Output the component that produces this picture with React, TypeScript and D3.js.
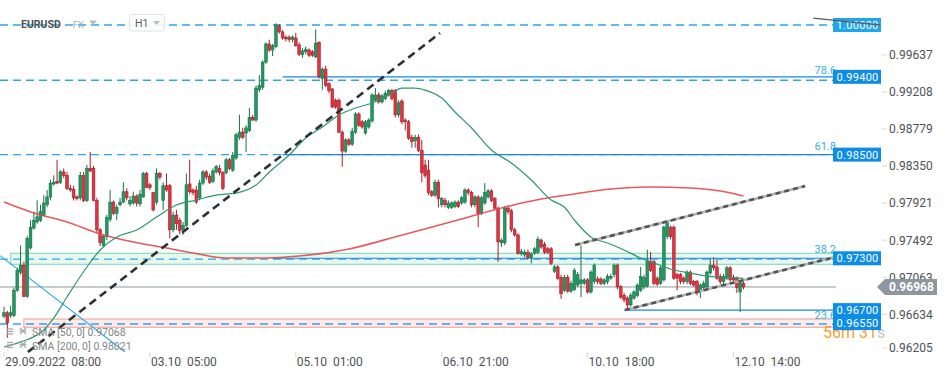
import React from 'react';
import * as d3 from 'd3';

// ---------- data (EURUSD H1) ----------
const openP = [
  0.9663, 0.9667, 0.9664, 0.9664, 0.9693, 0.9714, 0.9722, 0.9686, 0.9742, 0.9765,
  0.9772, 0.9774, 0.978, 0.9792, 0.9801, 0.9816, 0.9819, 0.9818, 0.983, 0.9826,
  0.9811, 0.981, 0.9801, 0.98, 0.9826, 0.9797, 0.9834, 0.9834, 0.9797, 0.9763,
  0.9745, 0.9755, 0.9775, 0.9795, 0.9782, 0.9792, 0.9795, 0.9807, 0.9793, 0.9794,
  0.9802, 0.9793, 0.9801, 0.9828, 0.9815, 0.9806, 0.9795, 0.9828, 0.9797, 0.9814,
  0.9814, 0.9763, 0.978, 0.9774, 0.9763, 0.9768, 0.9816, 0.9809, 0.9809, 0.98,
  0.9817, 0.983, 0.9825, 0.9819, 0.983, 0.9834, 0.9829, 0.9829, 0.9844, 0.9832,
  0.9846, 0.987, 0.9876, 0.9875, 0.9878, 0.9893, 0.989, 0.9925, 0.9928, 0.9957,
  0.9978, 0.9971, 0.9975, 0.9999, 0.9992, 0.9986, 0.9986, 0.9983, 0.9985, 0.9977,
  0.9966, 0.9969, 0.9971, 0.9969, 0.9963, 0.998, 0.9938, 0.9949, 0.9932, 0.9926,
  0.9913, 0.9913, 0.9876, 0.9854, 0.9867, 0.9862, 0.9876, 0.9897, 0.9888, 0.9875,
  0.9882, 0.9889, 0.9913, 0.9919, 0.9911, 0.9915, 0.9919, 0.9924, 0.9924, 0.9896,
  0.9912, 0.989, 0.9888, 0.987, 0.9866, 0.987, 0.9855, 0.9838, 0.9832, 0.9807,
  0.9803, 0.9818, 0.9792, 0.9797, 0.9789, 0.9789, 0.979, 0.9795, 0.9794, 0.9795,
  0.9809, 0.9806, 0.9792, 0.9801, 0.9782, 0.9794, 0.9801, 0.9808, 0.9799, 0.9788,
  0.9748, 0.9748, 0.9788, 0.9785, 0.9763, 0.9757, 0.9735, 0.9734, 0.9737, 0.9731,
  0.9736, 0.9737, 0.9751, 0.9746, 0.9741, 0.9741, 0.9715, 0.972, 0.9708, 0.9693,
  0.9708, 0.9692, 0.9694, 0.9699, 0.9701, 0.9701, 0.9705, 0.9691, 0.9703, 0.9706,
  0.9706, 0.9701, 0.9703, 0.9707, 0.9711, 0.9722, 0.9697, 0.9687, 0.9684, 0.9676,
  0.9684, 0.9687, 0.9693, 0.9697, 0.9698, 0.9726, 0.9726, 0.9707, 0.9701, 0.9705,
  0.9755, 0.9766, 0.9766, 0.9711, 0.9711, 0.9707, 0.9703, 0.9714, 0.9703, 0.9703,
  0.9693, 0.9696, 0.9697, 0.9713, 0.9722, 0.972, 0.9709, 0.9703, 0.9707, 0.9719,
  0.9708, 0.9707, 0.9691, 0.9701,
];
const highP = [
  0.9674, 0.9669, 0.9675, 0.9696, 0.9719, 0.9745, 0.9726, 0.9756, 0.9774, 0.9784,
  0.9797, 0.9792, 0.9803, 0.9809, 0.9821, 0.9826, 0.9844, 0.9832, 0.9834, 0.983,
  0.9815, 0.9814, 0.9803, 0.983, 0.983, 0.9838, 0.9853, 0.9837, 0.98, 0.9765,
  0.9757, 0.978, 0.9809, 0.9797, 0.9792, 0.98, 0.9818, 0.9811, 0.9802, 0.9807,
  0.9804, 0.9809, 0.983, 0.983, 0.9817, 0.9807, 0.9834, 0.983, 0.9818, 0.9828,
  0.9816, 0.9784, 0.9786, 0.9777, 0.9772, 0.9828, 0.9844, 0.9811, 0.9814, 0.9821,
  0.9832, 0.9832, 0.9828, 0.9834, 0.9838, 0.9838, 0.9831, 0.9846, 0.9846, 0.9853,
  0.9875, 0.9896, 0.9881, 0.9884, 0.9904, 0.9896, 0.993, 0.9942, 0.9959, 0.998,
  0.9983, 0.9978, 1.0002, 1.0001, 0.9994, 0.9988, 0.9988, 0.9988, 0.9991, 0.998,
  0.9973, 0.9975, 0.9973, 0.9971, 0.9995, 0.9981, 0.9951, 0.9953, 0.9934, 0.9927,
  0.9915, 0.9915, 0.9878, 0.9869, 0.9869, 0.9881, 0.9899, 0.9899, 0.989, 0.989,
  0.9892, 0.9921, 0.9927, 0.9922, 0.992, 0.9924, 0.9926, 0.9926, 0.9926, 0.9913,
  0.9914, 0.9892, 0.989, 0.9873, 0.9873, 0.9873, 0.9867, 0.9844, 0.9844, 0.9809,
  0.9821, 0.9821, 0.9801, 0.98, 0.9797, 0.9796, 0.9797, 0.9797, 0.9802, 0.9811,
  0.9811, 0.9808, 0.9803, 0.9803, 0.9802, 0.9817, 0.981, 0.981, 0.9801, 0.979,
  0.9753, 0.979, 0.979, 0.9787, 0.9765, 0.9759, 0.9741, 0.974, 0.974, 0.9737,
  0.9743, 0.9755, 0.9753, 0.9749, 0.9743, 0.9743, 0.9722, 0.9722, 0.9711, 0.9711,
  0.9711, 0.9704, 0.9719, 0.9714, 0.9745, 0.9707, 0.9707, 0.9716, 0.9724, 0.9709,
  0.9708, 0.9707, 0.9712, 0.9712, 0.9724, 0.9724, 0.9699, 0.969, 0.9686, 0.969,
  0.9693, 0.9701, 0.972, 0.9711, 0.974, 0.9737, 0.9728, 0.9709, 0.9721, 0.9768,
  0.9774, 0.9768, 0.9768, 0.9713, 0.9713, 0.9709, 0.9716, 0.9716, 0.9705, 0.9705,
  0.9701, 0.9704, 0.9716, 0.973, 0.9731, 0.9728, 0.9712, 0.9712, 0.9721, 0.9721,
  0.9711, 0.9709, 0.9705, 0.9704,
];
const lowP = [
  0.9661, 0.9638, 0.9661, 0.9662, 0.9691, 0.9711, 0.9685, 0.9684, 0.974, 0.9763,
  0.977, 0.9772, 0.9779, 0.9789, 0.9797, 0.9814, 0.9816, 0.9816, 0.9823, 0.9809,
  0.9807, 0.9797, 0.9797, 0.9797, 0.9795, 0.9795, 0.983, 0.9796, 0.976, 0.9744,
  0.9743, 0.9751, 0.9772, 0.978, 0.9774, 0.979, 0.9794, 0.9797, 0.979, 0.9792,
  0.979, 0.979, 0.98, 0.9811, 0.9809, 0.9784, 0.9792, 0.9821, 0.9786, 0.9807,
  0.9753, 0.976, 0.9763, 0.9758, 0.9757, 0.9766, 0.9804, 0.9803, 0.9793, 0.9797,
  0.9815, 0.9821, 0.9816, 0.9817, 0.9828, 0.9826, 0.9809, 0.9827, 0.9832, 0.983,
  0.9844, 0.9867, 0.9868, 0.9853, 0.9876, 0.9889, 0.9888, 0.9922, 0.9925, 0.9955,
  0.9969, 0.9964, 0.9973, 0.999, 0.9983, 0.9981, 0.998, 0.998, 0.9975, 0.9964,
  0.9962, 0.9966, 0.9963, 0.9963, 0.9962, 0.9938, 0.9925, 0.9928, 0.9921, 0.9904,
  0.9903, 0.9875, 0.9836, 0.9852, 0.986, 0.986, 0.9874, 0.9882, 0.988, 0.9873,
  0.988, 0.9887, 0.9911, 0.9909, 0.9909, 0.9913, 0.9917, 0.9913, 0.9893, 0.9893,
  0.9885, 0.9878, 0.9867, 0.9858, 0.9858, 0.9853, 0.9818, 0.9823, 0.9803, 0.9801,
  0.9801, 0.9789, 0.9789, 0.9789, 0.9787, 0.9787, 0.9788, 0.9788, 0.9792, 0.9793,
  0.9803, 0.9789, 0.9789, 0.9766, 0.978, 0.9792, 0.9799, 0.9795, 0.9786, 0.9726,
  0.9743, 0.9745, 0.9781, 0.976, 0.9755, 0.9734, 0.9733, 0.9731, 0.9729, 0.9724,
  0.9734, 0.9735, 0.9741, 0.9735, 0.9735, 0.9722, 0.9713, 0.9705, 0.9683, 0.9691,
  0.969, 0.969, 0.9692, 0.9697, 0.9685, 0.9699, 0.9689, 0.9689, 0.97, 0.97,
  0.9699, 0.9699, 0.97, 0.9705, 0.9708, 0.9694, 0.9683, 0.9679, 0.9672, 0.9674,
  0.9682, 0.9685, 0.9691, 0.9694, 0.9696, 0.9714, 0.9699, 0.9698, 0.9699, 0.9703,
  0.9752, 0.9752, 0.9705, 0.9693, 0.97, 0.97, 0.97, 0.9699, 0.9697, 0.9687,
  0.9684, 0.9693, 0.9694, 0.9711, 0.9716, 0.9705, 0.97, 0.97, 0.9705, 0.9703,
  0.9703, 0.969, 0.9668, 0.9694,
];
const closeP = [
  0.9667, 0.9655, 0.9667, 0.9693, 0.9716, 0.9722, 0.9686, 0.9753, 0.9766, 0.9774,
  0.9778, 0.9784, 0.9794, 0.9801, 0.9817, 0.9818, 0.9817, 0.983, 0.9826, 0.9811,
  0.9809, 0.98, 0.9799, 0.9826, 0.9797, 0.9834, 0.9831, 0.9797, 0.9763, 0.9748,
  0.9755, 0.9777, 0.9795, 0.9782, 0.9789, 0.9795, 0.9807, 0.98, 0.9797, 0.9802,
  0.9794, 0.9804, 0.9828, 0.9812, 0.9812, 0.9786, 0.9828, 0.9824, 0.9814, 0.9809,
  0.9763, 0.978, 0.977, 0.9762, 0.9768, 0.9815, 0.9807, 0.9806, 0.9795, 0.9817,
  0.983, 0.9824, 0.9818, 0.9831, 0.9836, 0.9829, 0.9811, 0.9844, 0.9834, 0.9849,
  0.9873, 0.9876, 0.987, 0.9881, 0.9893, 0.989, 0.9927, 0.993, 0.9957, 0.9978,
  0.9971, 0.9976, 1.0, 0.9992, 0.9985, 0.9984, 0.9983, 0.9986, 0.9976, 0.9966,
  0.997, 0.9972, 0.9965, 0.9965, 0.9979, 0.994, 0.9949, 0.993, 0.9924, 0.9905,
  0.9905, 0.9876, 0.9854, 0.9867, 0.9862, 0.9877, 0.9897, 0.9884, 0.9882, 0.9888,
  0.989, 0.9919, 0.9919, 0.9911, 0.9918, 0.9921, 0.9924, 0.9915, 0.9896, 0.991,
  0.9888, 0.9888, 0.9869, 0.9865, 0.987, 0.9855, 0.9829, 0.9826, 0.9806, 0.9803,
  0.9818, 0.9799, 0.9799, 0.9792, 0.9794, 0.9794, 0.9795, 0.979, 0.98, 0.9809,
  0.9806, 0.9792, 0.9801, 0.9782, 0.98, 0.9806, 0.9808, 0.9797, 0.9788, 0.9749,
  0.9751, 0.9788, 0.9784, 0.9763, 0.9757, 0.9736, 0.9738, 0.9737, 0.9731, 0.9735,
  0.9741, 0.9752, 0.9743, 0.9737, 0.9737, 0.9724, 0.972, 0.9707, 0.9689, 0.9708,
  0.9692, 0.9701, 0.9716, 0.9711, 0.9705, 0.9705, 0.9691, 0.9714, 0.9722, 0.9703,
  0.9701, 0.9705, 0.9709, 0.9709, 0.9722, 0.9697, 0.9685, 0.9682, 0.9676, 0.9687,
  0.9691, 0.9699, 0.9709, 0.9708, 0.9728, 0.9716, 0.9701, 0.97, 0.9719, 0.9766,
  0.9772, 0.9755, 0.9707, 0.9707, 0.9703, 0.9703, 0.9714, 0.9701, 0.9699, 0.969,
  0.9699, 0.9701, 0.9714, 0.9722, 0.9719, 0.9707, 0.9703, 0.9709, 0.9719, 0.9705,
  0.9705, 0.9696, 0.9703, 0.96968,
];

const sma50Idx = [0, 5, 12, 15, 19, 25, 29, 34, 40, 46, 52, 58, 64, 70, 76, 80, 86, 91, 96, 101, 106, 111, 116, 120, 124, 127, 132, 136, 141, 147, 153, 159, 165, 169, 172, 177, 182, 187, 192, 196, 202, 207, 212, 217, 223];
const sma50Val = [0.96273, 0.96331, 0.9647, 0.96608, 0.96852, 0.97199, 0.97396, 0.97546, 0.97627, 0.97777, 0.97916, 0.97974, 0.98032, 0.98055, 0.98148, 0.98298, 0.98495, 0.98692, 0.98819, 0.98958, 0.99039, 0.99097, 0.99189, 0.9927, 0.9927, 0.99247, 0.99155, 0.98993, 0.98808, 0.98553, 0.98402, 0.98206, 0.97974, 0.97893, 0.97743, 0.97546, 0.97477, 0.97396, 0.97303, 0.97245, 0.97164, 0.97129, 0.97094, 0.97083, 0.97068];
const sma200Idx = [0, 9, 19, 29, 39, 49, 57, 67, 79, 89, 104, 119, 128, 138, 150, 162, 172, 183, 195, 207, 216, 223];
const sma200Val = [0.97951, 0.97824, 0.9772, 0.97581, 0.97488, 0.97419, 0.97361, 0.97303, 0.97303, 0.97326, 0.97407, 0.97558, 0.9765, 0.97754, 0.97882, 0.97986, 0.98044, 0.98102, 0.98125, 0.98113, 0.98078, 0.98021];

const timeTickIdx = [0, 44, 88, 132, 176, 220];
const timeTickLabels = ['29.09.2022  08:00', '03.10  05:00', '05.10  01:00', '06.10  21:00', '10.10  18:00', '12.10  14:00'];
const priceTicks = [0.99637, 0.99208, 0.98779, 0.9835, 0.97921, 0.97492, 0.97063, 0.96634, 0.96205];

const levelPrices = [1.0, 0.994, 0.985, 0.973, 0.967, 0.9655];
const levelLabels = ['1.00000', '0.99400', '0.98500', '0.97300', '0.96700', '0.96550'];
const dashedLevelPrices = [1.0, 0.9936, 0.985, 0.9729, 0.9654];
const fibPrices = [0.994, 0.985, 0.973, 0.967];
const fibLabels = ['78.6', '61.8', '38.2', '23.6'];
const fibStartIdx = [84, 84, 81, 187];
const greenZone = [0.97357, 0.9723];
const greenZoneStart = 2;
const pinkZone = [0.96597, 0.96501];
const pinkZoneStart = 6;
const lastPrice = 0.96968;
const lastPriceLabel = '0.96968';
const mainTrend: [number, number][] = [[7.2, 0.96215], [131.5, 0.99907]];
const blueDiag: [number, number][] = [[-1.2, 0.9733], [36.5, 0.96215]];
const channelUpper: [number, number][] = [[172.2, 0.97453], [241.6, 0.98136]];
const channelLower: [number, number][] = [[187.3, 0.96701], [250.6, 0.97314]];
const topStub: [number, number][] = [[244, 1.0008], [264.2, 1.0]];
const legendRows = ['SMA [50, 0] 0.97068', 'SMA [200, 0] 0.98021'];
const symbol = 'EURUSD';
const market = 'FX';
const interval = 'H1';
const countdown = ['56m 31', 's'];

// ---------- scales ----------
const x = d3.scaleLinear().domain([0, 223]).range([4, 4 + 3.316 * 223]);
const y = d3.scaleLinear().domain([1.0, 0.9655]).range([25, 25 + 34.5 * 8.64]);

const PLOT_R = 836;
const PLOT_B = 353;
const FONT = 'Roboto, "Noto Sans", sans-serif';
const GREEN = '#23995f';
const GREEN_D = '#17704a';
const RED = '#e2343f';
const RED_D = '#a51e29';
const DASH_BLUE = '#2aa8e6';
const FIB_BLUE = '#1f86de';

const lineGen = d3
  .line<[number, number]>()
  .x((d) => x(d[0]))
  .y((d) => y(d[1]));

const smoothGen = d3
  .line<[number, number]>()
  .x((d) => x(d[0]))
  .y((d) => y(d[1]))
  .curve(d3.curveMonotoneX);

export default function App() {
  const candles = openP.map((o, i) => ({ i, o, h: highP[i], l: lowP[i], c: closeP[i] }));
  const sma50 = sma50Idx.map((d, k) => [d, sma50Val[k]] as [number, number]);
  const sma200 = sma200Idx.map((d, k) => [d, sma200Val[k]] as [number, number]);
  const bw = 2.7;
  const fibDy = [-2.5, -5, -5.5, 9];
  const yLast = y(lastPrice);

  return (
    <svg
      width={949}
      height={378}
      style={{ position: 'absolute', left: 0, top: 0, background: '#fff' }}
      fontFamily={FONT}
    >
      <defs>
        <clipPath id="plot">
          <rect x={0} y={0} width={PLOT_R} height={PLOT_B} />
        </clipPath>
      </defs>

      <g clipPath="url(#plot)">
        {/* zones */}
        <rect
          x={x(greenZoneStart)}
          y={y(greenZone[0])}
          width={PLOT_R - x(greenZoneStart)}
          height={y(greenZone[1]) - y(greenZone[0])}
          fill="#dff5ec"
          fillOpacity={0.75}
          stroke="#8fdcbf"
          strokeWidth={1.2}
        />
        <rect
          x={x(pinkZoneStart)}
          y={y(pinkZone[0])}
          width={PLOT_R - x(pinkZoneStart)}
          height={y(pinkZone[1]) - y(pinkZone[0])}
          fill="#fde6e6"
          fillOpacity={0.8}
          stroke="#f4a9a9"
          strokeWidth={1.2}
        />

        {/* dashed horizontal levels */}
        {dashedLevelPrices.map((p, k) => (
          <line
            key={'dl' + k}
            x1={0}
            x2={PLOT_R}
            y1={y(p)}
            y2={y(p)}
            stroke={DASH_BLUE}
            strokeWidth={1.4}
            strokeDasharray="8 5"
          />
        ))}

        {/* fib solid lines */}
        {fibPrices.map((p, k) => (
          <line
            key={'fl' + k}
            x1={x(fibStartIdx[k])}
            x2={PLOT_R}
            y1={y(p)}
            y2={y(p)}
            stroke={FIB_BLUE}
            strokeWidth={1.1}
          />
        ))}

        {/* last price line */}
        <line x1={0} x2={PLOT_R} y1={yLast} y2={yLast} stroke="#8d979d" strokeWidth={1} />

        {/* blue diagonal */}
        <path d={lineGen(blueDiag) || ''} stroke="#2aa8e6" strokeWidth={1.1} fill="none" />

        {/* candles */}
        {candles.map((d) => {
          const up = d.c >= d.o;
          const top = y(Math.max(d.o, d.c));
          const bot = y(Math.min(d.o, d.c));
          const cx = x(d.i);
          return (
            <g key={'c' + d.i}>
              <line
                x1={cx}
                x2={cx}
                y1={y(Math.max(d.h, d.o, d.c))}
                y2={y(Math.min(d.l, d.o, d.c))}
                stroke={up ? GREEN_D : RED_D}
                strokeWidth={1}
              />
              <rect
                x={cx - bw / 2}
                y={top}
                width={bw}
                height={Math.max(1, bot - top)}
                fill={up ? GREEN : RED}
                stroke={up ? GREEN_D : RED_D}
                strokeWidth={0.6}
              />
            </g>
          );
        })}

        {/* SMA lines */}
        <path d={smoothGen(sma200) || ''} stroke="#e4474d" strokeOpacity={0.9} strokeWidth={1.6} fill="none" />
        <path d={smoothGen(sma50) || ''} stroke="#2b9a68" strokeWidth={1.2} fill="none" />

        {/* main dashed trend line */}
        <path d={lineGen(mainTrend) || ''} stroke="#2d3135" strokeWidth={2.6} strokeDasharray="8 5" fill="none" />

        {/* channel */}
        {[channelUpper, channelLower].map((seg, k) => (
          <g key={'ch' + k}>
            <path d={lineGen(seg) || ''} stroke="#b3b3b3" strokeWidth={2.6} fill="none" />
            <path d={lineGen(seg) || ''} stroke="#555" strokeWidth={2.6} strokeDasharray="5 4" fill="none" />
          </g>
        ))}
      </g>

      {/* header */}
      <text x={21} y={27.5} fontSize={10.5} fontWeight={700} fill="#4a5056">
        {symbol}
      </text>
      <text x={73} y={27.5} fontSize={9} fill="#a3abb1">
        {market}
      </text>
      <path d="M89,20.5 L97,20.5 L93,25 Z" fill="#b5bcc1" />
      <rect x={129.5} y={14.5} width={35} height={16.5} rx={3} fill="#fff" fillOpacity={0.9} stroke="#dde1e4" />
      <text x={135} y={27} fontSize={10.5} fill="#5a6068">
        {interval}
      </text>
      <path d="M153,21 L160,21 L156.5,25 Z" fill="#b5bcc1" />

      {/* legend bottom-left */}
      {legendRows.map((t, k) => {
        const by = 336 + k * 13.5;
        return (
          <g key={'lg' + k}>
            <g stroke="#a4a9ad" strokeWidth={1.3}>
              <line x1={7} x2={13} y1={by - 7} y2={by - 7} />
              <line x1={7} x2={13} y1={by - 4.5} y2={by - 4.5} />
              <line x1={7} x2={13} y1={by - 2} y2={by - 2} />
              <line x1={20} x2={26} y1={by - 8} y2={by - 2} />
              <line x1={26} x2={20} y1={by - 8} y2={by - 2} />
              <line x1={19.5} x2={26.5} y1={by - 5} y2={by - 5} />
            </g>
            <text x={32} y={by} fontSize={10.5} fill="#80868b" style={{ whiteSpace: 'pre' }}>
              {t}
            </text>
          </g>
        );
      })}

      {/* countdown */}
      <text x={823} y={338} fontSize={16} fill="#f6a033">
        {countdown[0]}
        <tspan fill="#c4c4c4">{countdown[1]}</tspan>
      </text>

      {/* fib labels */}
      {fibLabels.map((t, k) => (
        <text
          key={'fb' + k}
          x={836}
          y={y(fibPrices[k]) + fibDy[k]}
          fontSize={11}
          fill="#3aaee8"
          textAnchor="end"
        >
          {t}
        </text>
      ))}

      {/* right price axis */}
      {priceTicks.map((p, k) => {
        const yy = Math.min(y(p) - 1.5, 348);
        return (
          <g key={'pt' + k}>
            <line x1={882} x2={887} y1={yy} y2={yy} stroke="#d5d8da" />
            <text x={889} y={yy} dy="0.36em" fontSize={12} fill="#4d5358">
              {p.toFixed(5)}
            </text>
          </g>
        );
      })}

      {/* level price boxes */}
      {levelPrices.map((p, k) => (
        <g key={'lb' + k}>
          <rect x={833} y={y(p) - 7} width={48} height={14} fill={k === 0 ? '#1ea6ee' : '#0c8de8'} />
          <text x={836.5} y={y(p)} dy="0.36em" fontSize={11} fill="#fff" letterSpacing={0.3}>
            {levelLabels[k]}
          </text>
        </g>
      ))}

      {/* stub line over top label */}
      <path d={lineGen(topStub) || ''} stroke="#5b5f63" strokeWidth={1.4} fill="none" />

      {/* last price marker */}
      <path
        d={`M877,${yLast} L885,${yLast - 8} L937,${yLast - 8} L937,${yLast + 8} L885,${yLast + 8} Z`}
        fill="#8d979d"
      />
      <text x={889} y={yLast} dy="0.36em" fontSize={12} fontWeight={700} fill="#fff">
        {lastPriceLabel}
      </text>

      {/* time axis */}
      {timeTickIdx.map((t, k) => (
        <g key={'tt' + k}>
          <line x1={x(t)} x2={x(t)} y1={352} y2={357} stroke="#d5d8da" />
          <text x={x(t) + 1} y={366} fontSize={12} fill="#4d5358" style={{ whiteSpace: 'pre' }}>
            {timeTickLabels[k]}
          </text>
        </g>
      ))}
    </svg>
  );
}
